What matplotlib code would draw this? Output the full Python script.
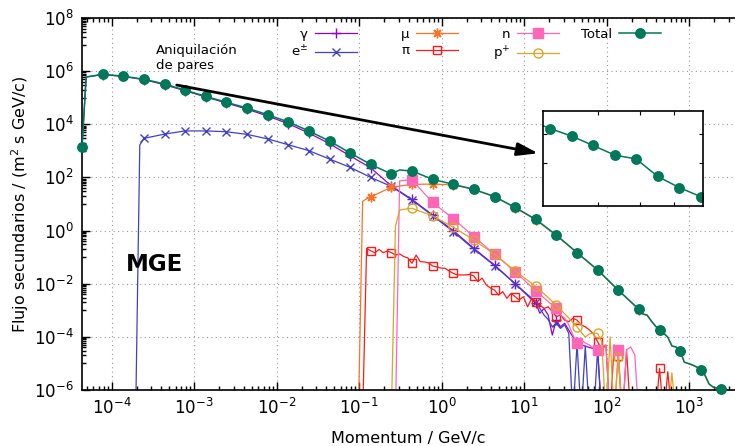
import numpy as np
import matplotlib
matplotlib.use('Agg')
import matplotlib.pyplot as plt
from matplotlib.legend import Legend
from matplotlib.ticker import FixedLocator, LogLocator, NullFormatter

plt.rcParams['font.family'] = ['DejaVu Sans']
plt.rcParams['mathtext.fontset'] = 'dejavusans'

# Secondary particle fluxes at ground level, 1/(m2 s GeV/c), vs momentum in GeV/c.
# Momentum bins are 0.05 decades wide; zero bins are stored as 1e-7.
p_total = [4.37e-5, 4.90e-5, 7.76e-5, 1.38e-4, 2.45e-4, 2.75e-4, 3.09e-4, 3.47e-4, 3.89e-4,
           4.37e-4, 4.90e-4, 5.50e-4, 6.17e-4, 6.92e-4, 7.76e-4, 1.38e-3, 2.45e-3, 4.37e-3,
           7.76e-3, 1.38e-2, 2.45e-2, 4.37e-2, 7.76e-2, 0.138, 0.245, 0.309, 0.437, 0.776,
           1.38, 2.45, 4.37, 7.76, 13.8, 24.5, 43.7, 77.6, 138, 245, 275, 309, 347, 389, 437,
           490, 550, 617, 692, 776, 871, 977, 1100, 1230, 1380, 1550, 1740, 1950, 2190, 2450]
f_total = [1.45e3, 6.03e5, 7.59e5, 6.46e5, 4.93e5, 4.57e5, 4.20e5, 3.90e5, 3.56e5,
           3.24e5, 3.12e5, 2.63e5, 2.36e5, 2.16e5, 1.91e5, 1.12e5, 6.76e4, 4.07e4,
           2.29e4, 1.23e4, 5.62e3, 2.34e3, 832, 309, 135, 191, 174, 85.1,
           55.0, 35.5, 19.1, 7.41, 2.63, 0.676, 0.148, 3.31e-2, 5.75e-3, 1.10e-3, 7.24e-4,
           6.61e-4, 3.98e-4, 2.57e-4, 1.82e-4, 1.38e-4, 9.77e-5, 4.57e-5, 4.17e-5, 3.02e-5,
           1.12e-5, 1.00e-5, 8.71e-6, 7.41e-6, 5.62e-6, 3.63e-6, 1.70e-6, 1.29e-6, 1.17e-6,
           1.05e-6]

p_gamma = [4.37e-5, 4.90e-5, 7.76e-5, 1.38e-4, 2.45e-4, 4.37e-4, 7.76e-4, 1.38e-3, 2.45e-3,
           4.37e-3, 7.76e-3, 1.38e-2, 2.45e-2, 4.37e-2, 7.76e-2, 0.138, 0.245, 0.437, 0.776,
           1.38, 2.45, 4.37, 7.76, 13.8, 15.5, 17.4, 19.5, 21.9, 24.5, 27.5, 30.9, 34.7,
           38.9, 43.7, 49.0, 55.0, 61.7, 69.2, 77.6, 87.1]
f_gamma = [1.41e3, 6.03e5, 7.41e5, 6.31e5, 4.79e5, 3.09e5, 1.82e5, 1.07e5, 6.31e4,
           3.72e4, 2.04e4, 1.05e4, 4.68e3, 1.86e3, 646, 229, 47.9, 14.8, 3.85,
           1.00, 0.214, 5.01e-2, 1.00e-2, 1.82e-3, 7.76e-4, 1.17e-3, 6.61e-4, 1.17e-4,
           4.27e-4, 2.40e-4, 3.24e-4, 1.78e-4, 1.00e-4, 6.61e-5, 5.01e-5, 4.47e-5, 3.98e-5,
           3.63e-5, 3.47e-5, 1e-7]

p_ele = [1.95e-4, 2.19e-4, 2.45e-4, 4.37e-4, 7.76e-4, 1.38e-3, 2.45e-3, 4.37e-3, 7.76e-3,
         1.38e-2, 2.45e-2, 4.37e-2, 7.76e-2, 0.138, 0.245, 0.437, 0.776, 1.38, 2.45, 4.37,
         7.76, 13.8, 15.5, 17.4, 19.5, 21.9, 24.5, 27.5, 30.9, 34.7, 38.9, 43.7, 49.0, 55.0,
         61.7, 69.2, 77.6, 87.1]
f_ele = [1e-7, 1.66e3, 2.95e3, 4.27e3, 5.62e3, 5.62e3, 5.25e3, 4.17e3, 2.82e3,
         1.70e3, 1.02e3, 490, 240, 100, 45.7, 14.1, 3.63, 0.912, 0.200, 4.79e-2,
         1.00e-2, 2.09e-3, 1.17e-3, 6.61e-4, 4.47e-4, 2.40e-4, 3.24e-4, 2.09e-4, 2.82e-4,
         1.35e-4, 1e-7, 5.62e-5, 1e-7, 4.47e-5, 1e-7, 1e-7, 3.16e-5, 1e-7]

p_muon = [9.77e-2, 0.110, 0.123, 0.138, 0.245, 0.437, 0.776, 1.38, 2.45, 4.37, 7.76, 13.8,
          24.5, 43.7, 77.6, 138, 245, 275, 309, 347, 389, 437, 490, 550, 617, 692, 776,
          871, 977, 1100, 1230, 1380, 1550, 1740, 1950, 2190, 2450]
f_muon = [1e-7, 12.6, 15.8, 18.6, 42.7, 55.0, 56.2, 52.5, 35.5, 18.6, 7.24, 2.57,
          0.661, 0.145, 3.24e-2, 5.62e-3, 1.07e-3, 7.08e-4, 6.46e-4, 3.89e-4, 2.51e-4,
          1.78e-4, 1.35e-4, 9.55e-5, 4.47e-5, 4.07e-5, 2.95e-5, 1.10e-5, 9.77e-6, 8.51e-6,
          7.24e-6, 5.50e-6, 3.55e-6, 1.66e-6, 1.26e-6, 1.15e-6, 1.02e-6]

p_pion = [0.110, 0.123, 0.138, 0.155, 0.174, 0.195, 0.219, 0.245, 0.275, 0.309, 0.347,
          0.389, 0.437, 0.490, 0.550, 0.617, 0.692, 0.776, 0.871, 0.977, 1.10, 1.23, 1.38,
          1.55, 1.74, 1.95, 2.19, 2.45, 2.75, 3.09, 3.47, 3.89, 4.37, 4.90, 5.50, 6.17,
          6.92, 7.76, 8.71, 9.77, 11.0, 12.3, 13.8, 15.5, 17.4, 19.5, 21.9, 24.5, 27.5,
          30.9, 34.7, 38.9, 43.7, 49.0, 55.0, 61.7, 69.2, 77.6, 87.1, 97.7,
          110, 123, 138, 155, 174, 195, 389, 437, 490, 550, 617]
f_pion = [1e-7, 0.214, 0.174, 0.145, 0.195, 0.148, 0.170, 0.148, 0.120, 0.132, 0.105,
          9.33e-2, 5.89e-2, 0.120, 6.76e-2, 6.61e-2, 6.03e-2, 4.68e-2, 4.27e-2, 3.89e-2,
          3.80e-2, 3.02e-2, 2.45e-2, 2.14e-2, 2.14e-2, 2.14e-2, 2.24e-2, 1.95e-2, 1.20e-2,
          1.62e-2, 8.91e-3, 6.92e-3, 5.75e-3, 3.72e-3, 5.01e-3, 2.82e-3, 4.37e-3, 3.24e-3,
          2.45e-3, 3.24e-3, 1.35e-3, 2.82e-3, 2.09e-3, 1.58e-3, 1.17e-3, 1.35e-3, 8.91e-4,
          5.75e-4, 6.61e-4, 4.27e-4, 3.72e-4, 5.01e-4, 4.27e-4, 2.82e-4, 2.40e-4, 1.82e-4,
          1.29e-4, 6.61e-5, 3.24e-5, 4.90e-5,
          1e-7, 5.01e-5, 1.91e-5, 1e-7, 3.24e-5, 1e-7, 1e-7, 6.61e-6, 1e-7, 4.90e-6, 1e-7]

p_neutron = [0.275, 0.309, 0.347, 0.437, 0.776, 1.38, 2.45, 4.37, 7.76, 13.8, 24.5, 27.5,
             30.9, 34.7, 38.9, 43.7, 49.0, 55.0, 61.7, 69.2, 77.6, 87.1, 97.7, 110, 123,
             138, 155, 174, 195, 219, 245]
f_neutron = [1e-7, 74.1, 77.6, 79.4, 11.5, 2.82, 0.589, 0.129, 2.82e-2, 5.37e-3, 1.17e-3,
             6.61e-4, 5.13e-4, 2.82e-4, 1.17e-4, 5.75e-5, 7.59e-5, 5.89e-5, 4.90e-5,
             3.80e-5, 3.16e-5, 4.57e-5, 4.90e-5, 1e-7, 1e-7, 3.24e-5, 1e-7, 3.24e-5,
             4.17e-5, 2.09e-5, 1e-7]

p_proton = [0.245, 0.275, 0.309, 0.347, 0.437, 0.776, 1.38, 2.45, 4.37, 7.76, 13.8, 24.5,
            43.7, 49.0, 55.0, 61.7, 69.2, 77.6, 87.1, 97.7, 110, 123, 138, 155, 550, 617, 692]
f_proton = [1e-7, 1.48, 5.89, 6.31, 6.92, 3.55, 1.35, 0.437, 0.129, 3.02e-2, 7.94e-3,
            1.58e-3, 2.40e-4, 1.51e-4, 9.77e-5, 1.29e-4, 1.38e-4, 1.35e-4, 6.46e-5, 1e-7,
            1.00e-4, 1e-7, 1.78e-5, 1e-7, 1e-7, 4.37e-6, 1e-7]

x_decades = list(range(-4, 4))
y_decades = list(range(-6, 9, 2))


def marker_bins(p):
    # one point every 5 bins (0.25 decades), same grid for all particles
    k = np.rint((np.log10(p) + 4.36) / 0.05).astype(int)
    return (k % 5 == 0).tolist()


fig = plt.figure(figsize=(7.35, 4.46), dpi=100)
ax = fig.add_axes([82 / 735, 1 - 390 / 446, 1 - 82 / 735, 372 / 446])

asterisk = (8, 2, 0)
styles = [
    ('γ', p_gamma, f_gamma, '#9400d3', dict(marker='+', ms=7, mew=1.0)),
    ('e$^{\\pm}$', p_ele, f_ele, '#4040c8', dict(marker='x', ms=5.5, mew=1.0)),
    ('μ', p_muon, f_muon, '#fa7325', dict(marker=asterisk, ms=7, mew=1.0)),
    ('π', p_pion, f_pion, '#ff1a1a', dict(marker='s', ms=6, mew=1.0, mfc='none')),
    ('n', p_neutron, f_neutron, '#ff66b8', dict(marker='s', ms=6.5, mew=1.0)),
    ('p$^{+}$', p_proton, f_proton, '#dda425', dict(marker='o', ms=6.5, mew=1.0, mfc='none')),
]

handles = []
for label, p, f, color, mk in styles:
    ln, = ax.plot(p, f, color=color, lw=0.9, label=label,
                  markevery=marker_bins(p), **mk)
    handles.append(ln)

tot, = ax.plot(p_total, f_total, color='#00785a', lw=1.1, marker='o', ms=6.8,
               markevery=marker_bins(p_total), label='Total', clip_on=False, zorder=5)
handles.append(tot)

ax.set_xscale('log')
ax.set_yscale('log')
ax.set_xlim(10 ** -4.36, 10 ** 3.555)
ax.set_ylim(1e-6, 1e8)

ax.set_xticks([10.0 ** e for e in x_decades])
ax.set_xticklabels(['$10^{%d}$' % e for e in x_decades])
ax.xaxis.set_minor_locator(LogLocator(base=10, subs=np.arange(2, 10), numticks=30))
ax.xaxis.set_minor_formatter(NullFormatter())
ax.set_yticks([10.0 ** e for e in y_decades])
ax.set_yticklabels(['$10^{%d}$' % e for e in y_decades])
ax.yaxis.set_minor_locator(FixedLocator([j * 10.0 ** e for e in range(-5, 8, 2)
                                         for j in range(1, 10)]))
ax.yaxis.set_minor_formatter(NullFormatter())

ax.tick_params(which='both', direction='in', top=True, right=False, labelsize=12, width=1)
ax.tick_params(which='major', length=6, pad=6)
ax.tick_params(which='minor', length=3)
ax.spines['right'].set_visible(False)
for s in ['left', 'bottom', 'top']:
    ax.spines[s].set_linewidth(1.2)
ax.grid(True, which='major', color='#999999', linestyle=(0, (1, 3)), linewidth=0.8)

ax.set_xlabel('Momentum / GeV/c', fontsize=11.5, labelpad=9)
ax.set_ylabel('Flujo secundarios / (m$^2$ s GeV/c)', fontsize=11.5, labelpad=2)

# key laid out in four columns, label before sample
columns = [(handles[0:2], 357), (handles[2:4], 458), (handles[4:6], 559), (handles[6:7], 661)]
for hs, xr in columns:
    leg = Legend(ax, hs, [h.get_label() for h in hs], loc='upper right',
                 bbox_to_anchor=(xr / 735, 1 - 28 / 446), bbox_transform=fig.transFigure,
                 frameon=False, markerfirst=False, fontsize=9.5, handlelength=3.2,
                 handletextpad=0.5, borderpad=0, borderaxespad=0, labelspacing=0.25,
                 numpoints=1)
    ax.add_artist(leg)

fig.text(156 / 735, 1 - 58 / 446, 'Aniquilación\nde pares', fontsize=9.5,
         ha='left', va='center', linespacing=1.25)
fig.text(126 / 735, 1 - 271 / 446, 'MGE', fontsize=16.5, fontweight='bold',
         ha='left', va='baseline')

ax.annotate('', xy=(14.8, 810), xytext=(6.14e-4, 3.0e5),
            arrowprops=dict(arrowstyle='-|>,head_length=0.9,head_width=0.28',
                            color='black', lw=2, shrinkA=0, shrinkB=0,
                            mutation_scale=14), zorder=6)

# zoom on the 511 keV region
axin = fig.add_axes([543.3 / 735, 1 - 206 / 446, 159.4 / 735, 95.3 / 446])
axin.plot(p_total, f_total, color='#00785a', lw=1.1, marker='o', ms=6.8)
axin.set_xscale('log')
axin.set_yscale('log')
axin.set_xlim(2.98e-4, 7.0e-4)
axin.set_ylim(1.97e5, 5.0e5)
axin.xaxis.set_major_locator(FixedLocator([4e-4, 5e-4, 6e-4]))
axin.yaxis.set_major_locator(FixedLocator([3e5, 4e5]))
axin.xaxis.set_minor_locator(FixedLocator([]))
axin.yaxis.set_minor_locator(FixedLocator([]))
axin.tick_params(which='both', direction='in', top=True, right=True, length=3,
                 labelbottom=False, labelleft=False)
for s in axin.spines.values():
    s.set_linewidth(1.2)

fig.savefig('out.png', dpi=100)
